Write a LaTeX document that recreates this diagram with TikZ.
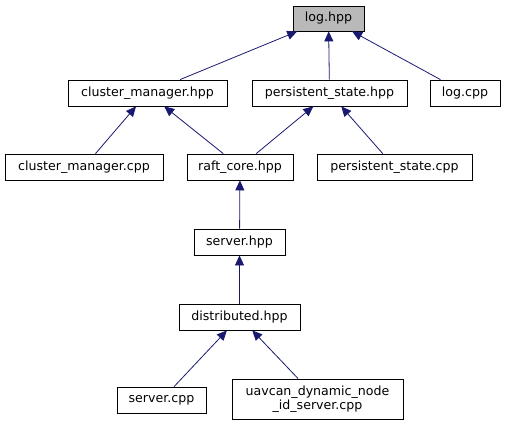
\documentclass[tikz,border=0pt]{standalone}
\usepackage{fontspec}
\setmainfont{DejaVu Sans}
\usepackage{tikz}
\usetikzlibrary{arrows.meta}

\definecolor{edgeblue}{HTML}{191970}

\tikzset{
  file/.style={draw, thick, fill=white, minimum height=26pt, inner sep=0pt,
    align=center, font=\fontsize{12.6}{14.5}\selectfont},
  edge/.style={draw=edgeblue, thick, -{Triangle[length=10pt,width=9pt]}}
}

\begin{document}
\begin{tikzpicture}[x=1pt, y=-1pt]

\def\w{505} % image width
\def\h{425} % image height
\useasboundingbox (0,0) rectangle (\w,\h);

% Header itself
\node[file, fill=gray!55, minimum width=71pt, minimum height=25pt] (log) at (328.5,18.5) {log.hpp};

% First level
\node[file, minimum width=159pt] (cmhpp) at (147.5,93) {cluster\_manager.hpp};
\node[file, minimum width=155pt] (pshpp) at (329.5,93) {persistent\_state.hpp};
\node[file, minimum width=70pt] (logcpp) at (465,93) {log.cpp};

% Second level
\node[file, minimum width=158pt] (cmcpp) at (84,167) {cluster\_manager.cpp};
\node[file, minimum width=106pt] (raft) at (240,167) {raft\_core.hpp};
\node[file, minimum width=155pt] (pscpp) at (394.5,167) {persistent\_state.cpp};

% Server chain
\node[file, minimum width=91pt] (serverhpp) at (239.5,242) {server.hpp};
\node[file, minimum width=121pt] (dist) at (239.5,317) {distributed.hpp};

% Bottom
\node[file, minimum width=89pt] (servercpp) at (161.5,400) {server.cpp};
\node[file, minimum width=171pt, minimum height=40pt] (uavcan) at (317.5,399) {uavcan\_dynamic\_node\\\_id\_server.cpp};

% Includes
\draw[edge] (cmhpp) -- (log);
\draw[edge] (pshpp) -- (log);
\draw[edge] (logcpp) -- (log);
\draw[edge] (cmcpp) -- (cmhpp);
\draw[edge] (raft) -- (cmhpp);
\draw[edge] (raft) -- (pshpp);
\draw[edge] (pscpp) -- (pshpp);
\draw[edge] (serverhpp) -- (raft);
\draw[edge] (dist) -- (serverhpp);
\draw[edge] (servercpp) -- (dist);
\draw[edge] (uavcan) -- (dist);

\end{tikzpicture}
\end{document}
